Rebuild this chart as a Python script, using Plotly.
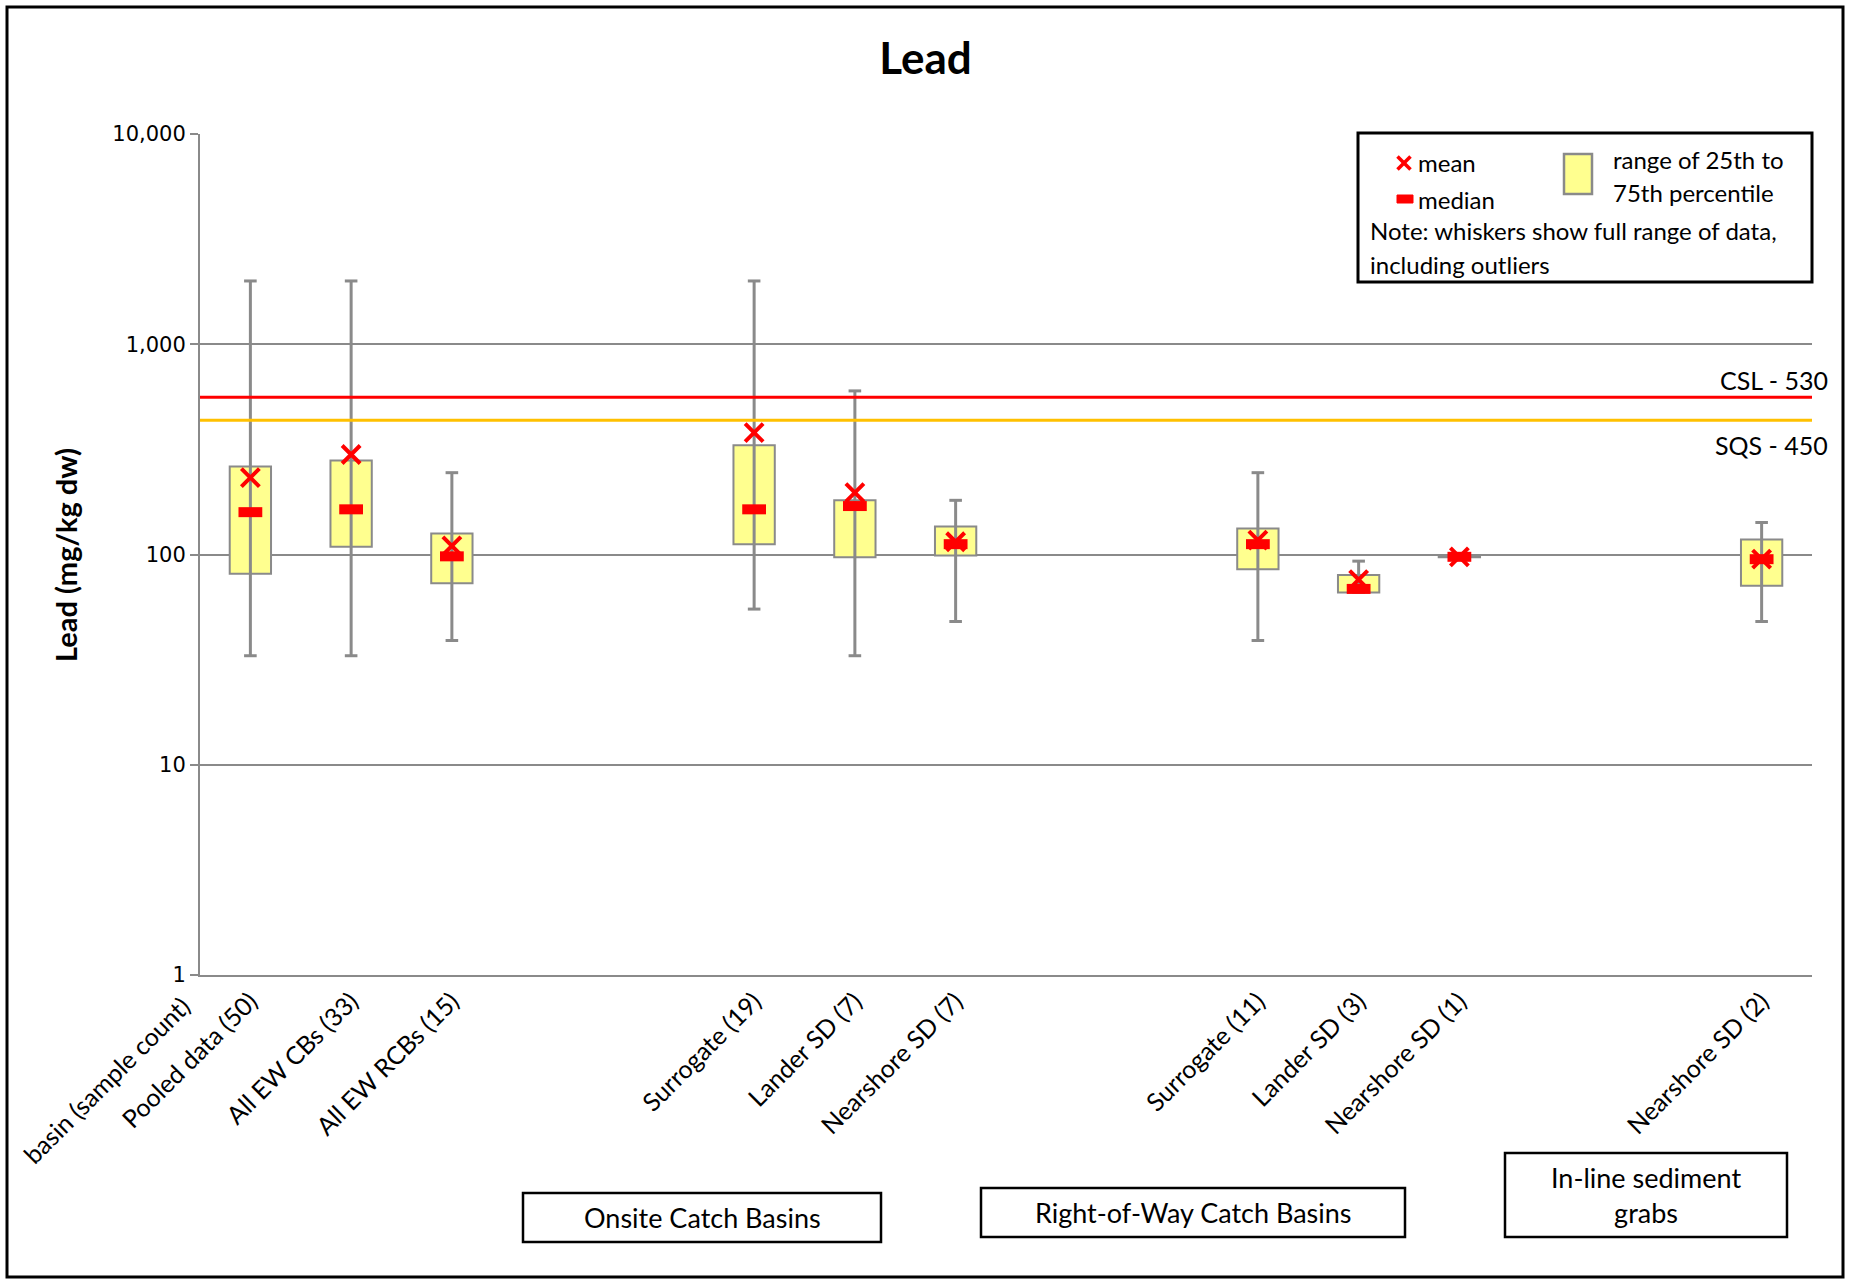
import plotly.graph_objects as go

# ---------------- data ----------------
categories = ["Pooled data (50)", "All EW CBs (33)", "All EW RCBs (15)", "", "",
              "Surrogate (19)", "Lander SD (7)", "Nearshore SD (7)", "", "",
              "Surrogate (11)", "Lander SD (3)", "Nearshore SD (1)", "", "",
              "Nearshore SD (2)"]
minimum = [33, 33, 39, None, None, 55, 33, 48, None, None, 39, 66, 97.5, None, None, 48]
q1      = [81, 109, 73, None, None, 112, 97, 99, None, None, 85, 66, 97, None, None, 71]
median  = [159, 164, 98, None, None, 164, 170, 112, None, None, 112, 68.6, 97.5, None, None, 95]
q3      = [262, 280, 126, None, None, 331, 181, 136, None, None, 133, 80, 98, None, None, 118]
maximum = [2000, 2000, 245, None, None, 2000, 600, 181, None, None, 245, 93, 97.5, None, None, 142]
mean    = [232, 299, 110, None, None, 380, 197, 115, None, None, 117, 76, 97.5, None, None, 95]

csl_value, csl_label = 560, "CSL - 530"
sqs_value, sqs_label = 435, "SQS - 450"

y_tick_vals = [1, 10, 100, 1000, 10000]
y_tick_text = ["1", "10", "100", "1,000", "10,000"]

group_labels = ["Onsite Catch Basins", "Right-of-Way Catch Basins", "In-line sediment<br>grabs"]

# ---------------- styling / geometry ----------------
W, H = 1851, 1280
ML, MR, MT, MB = 200, 39, 134, 305
PW, PH = W - ML - MR, H - MT - MB
GRAY = "#8a8a8a"
YELLOW = "#FFFF8F"
RED = "#FF0000"
ORANGE = "#FFC000"
FONT = "Lato"


def px_x(px):
    return (px - ML) / PW


def px_y(py):
    return (H - MB - py) / PH


idx = [i for i, c in enumerate(categories) if c]
pos = idx
lab = [categories[i] for i in idx]

fig = go.Figure()

# whiskers
wx, wy = [], []
for i in idx:
    wx += [i, i, None]
    wy += [minimum[i], maximum[i], None]
fig.add_trace(go.Scatter(x=wx, y=wy, mode="lines", line=dict(color=GRAY, width=3),
                         hoverinfo="skip", showlegend=False))
# whisker caps
fig.add_trace(go.Scatter(x=pos + pos, y=[minimum[i] for i in idx] + [maximum[i] for i in idx],
                         mode="markers",
                         marker=dict(symbol="line-ew-open", size=9, color=GRAY,
                                     line=dict(color=GRAY, width=3)),
                         hoverinfo="skip", showlegend=False))
# reference lines
fig.add_trace(go.Scatter(x=[-0.5, 15.5], y=[sqs_value, sqs_value], mode="lines",
                         line=dict(color=ORANGE, width=3), hoverinfo="skip", showlegend=False))
fig.add_trace(go.Scatter(x=[-0.5, 15.5], y=[csl_value, csl_value], mode="lines",
                         line=dict(color=RED, width=3), hoverinfo="skip", showlegend=False))
# boxes (25th - 75th percentile)
fig.add_trace(go.Bar(x=pos, y=[q3[i] - q1[i] for i in idx], base=[q1[i] for i in idx],
                     width=0.41, marker=dict(color=YELLOW, line=dict(color=GRAY, width=2)),
                     hoverinfo="skip", showlegend=False))
# medians
fig.add_trace(go.Scatter(x=pos, y=[median[i] for i in idx], mode="markers",
                         marker=dict(symbol="line-ew-open", size=17, color=RED,
                                     line=dict(color=RED, width=10)),
                         hoverinfo="skip", showlegend=False))
# means
fig.add_trace(go.Scatter(x=pos, y=[mean[i] for i in idx], mode="markers",
                         marker=dict(symbol="x-thin-open", size=18, color=RED,
                                     line=dict(color=RED, width=4)),
                         hoverinfo="skip", showlegend=False))

shapes = []
annotations = []

# outer chart border
shapes.append(dict(type="rect", xref="paper", yref="paper",
                   x0=px_x(7), x1=px_x(1843), y0=px_y(1277), y1=px_y(7),
                   line=dict(color="black", width=3), layer="above"))

# legend box
shapes.append(dict(type="rect", xref="paper", yref="paper",
                   x0=px_x(1358), x1=px_x(1812), y0=px_y(282), y1=px_y(133),
                   line=dict(color="black", width=3), fillcolor="white", layer="above"))
# mean symbol (x)
cx, cy, hs = 1404, 163, 6.5
shapes.append(dict(type="line", xref="paper", yref="paper", x0=px_x(cx - hs), x1=px_x(cx + hs),
                   y0=px_y(cy - hs), y1=px_y(cy + hs), line=dict(color=RED, width=3.5), layer="above"))
shapes.append(dict(type="line", xref="paper", yref="paper", x0=px_x(cx - hs), x1=px_x(cx + hs),
                   y0=px_y(cy + hs), y1=px_y(cy - hs), line=dict(color=RED, width=3.5), layer="above"))
# median symbol
shapes.append(dict(type="rect", xref="paper", yref="paper", x0=px_x(1397), x1=px_x(1413),
                   y0=px_y(203), y1=px_y(195), fillcolor=RED, line=dict(color=RED, width=1), layer="above"))
# box symbol
shapes.append(dict(type="rect", xref="paper", yref="paper", x0=px_x(1564), x1=px_x(1592),
                   y0=px_y(194), y1=px_y(154), fillcolor=YELLOW, line=dict(color=GRAY, width=2.5),
                   layer="above"))

LEG_FS = 24
for txt, x, y in [("mean", 1416, 163), ("median", 1416, 199),
                  ("range of 25th to", 1611, 160), ("75th percentile", 1611, 193),
                  ("Note: whiskers show full range of data,", 1368, 231),
                  ("including outliers", 1368, 264)]:
    annotations.append(dict(text=txt, xref="paper", yref="paper", x=px_x(x), y=px_y(y),
                            xanchor="left", yanchor="middle", showarrow=False,
                            font=dict(family=FONT, size=LEG_FS, color="black")))

# group label boxes
for txt, (x0, y0, x1, y1) in zip(group_labels, [(523, 1193, 881, 1242),
                                                (981, 1188, 1405, 1237),
                                                (1505, 1153, 1787, 1237)]):
    shapes.append(dict(type="rect", xref="paper", yref="paper", x0=px_x(x0), x1=px_x(x1),
                       y0=px_y(y1), y1=px_y(y0), line=dict(color="black", width=2.5),
                       fillcolor="white", layer="above"))
    annotations.append(dict(text=txt, xref="paper", yref="paper", x=px_x((x0 + x1) / 2),
                            y=px_y((y0 + y1) / 2), xanchor="center", yanchor="middle",
                            showarrow=False, font=dict(family=FONT, size=27, color="black")))

# reference line labels
annotations.append(dict(text=csl_label, xref="paper", yref="paper", x=px_x(1830), y=px_y(380),
                        xanchor="right", yanchor="middle", showarrow=False,
                        font=dict(family=FONT, size=25, color="black")))
annotations.append(dict(text=sqs_label, xref="paper", yref="paper", x=px_x(1830), y=px_y(445),
                        xanchor="right", yanchor="middle", showarrow=False,
                        font=dict(family=FONT, size=25, color="black")))

# y-axis title
annotations.append(dict(text="<b>Lead (mg/kg dw)</b>", xref="paper", yref="paper",
                        x=px_x(65), y=px_y(555), textangle=-90, xanchor="center", yanchor="middle",
                        showarrow=False, font=dict(family=FONT, size=29, color="black")))

# first category header label
annotations.append(dict(text="basin (sample count)", xref="paper", yref="paper",
                        x=px_x(198), y=px_y(988), textangle=-45, xanchor="right", yanchor="top",
                        showarrow=False, font=dict(family=FONT, size=25, color="black")))

fig.update_layout(
    width=W, height=H,
    margin=dict(l=ML, r=MR, t=MT, b=MB, pad=0),
    paper_bgcolor="white", plot_bgcolor="white",
    title=dict(text="<b>Lead</b>", x=0.5, xref="container", xanchor="center",
               y=1 - 59 / H, yref="container", yanchor="middle",
               font=dict(family=FONT, size=44, color="black")),
    xaxis=dict(range=[-0.5, 15.5], tickmode="array", tickvals=pos, ticktext=lab,
               tickangle=-45, ticks="", showgrid=False, zeroline=False,
               showline=True, linecolor=GRAY, linewidth=2,
               tickfont=dict(family=FONT, size=25, color="black")),
    yaxis=dict(type="log", range=[0, 4], tickmode="array", tickvals=y_tick_vals,
               ticktext=y_tick_text, showgrid=True, gridcolor=GRAY, gridwidth=2,
               showline=True, linecolor=GRAY, linewidth=2, zeroline=False,
               ticks="outside", ticklen=8, tickwidth=2, tickcolor=GRAY,
               tickfont=dict(family="DejaVu Sans", size=21, color="black")),
    shapes=shapes, annotations=annotations,
    showlegend=False,
)

fig.write_html("out.html", config={"displayModeBar": False},
               post_script="document.body.style.margin='0';document.body.style.overflow='hidden';")
